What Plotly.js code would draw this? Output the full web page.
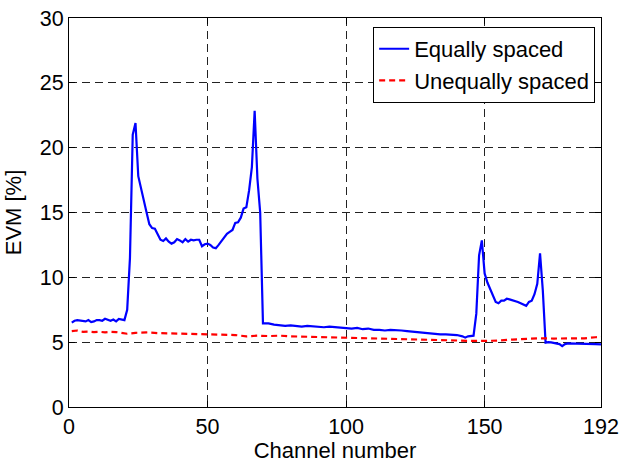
<!DOCTYPE html>
<html>
<head>
<meta charset="utf-8">
<script src="https://cdn.plot.ly/plotly-3.0.1.min.js"></script>
<style>html,body{margin:0;padding:0;background:#fff;}#chart{width:621px;height:463px;}</style>
</head>
<body>
<div id="chart"></div>
<script>
const equalX = [1,2,3,4,5,6,7,8,9,10,11,12,13,14,15,16,17,18,19,20,
  21,22,23,24,25,26,27,28,29,30,31,32,33,34,35,36,37,38,39,40,
  41,42,43,44,45,46,47,48,49,50,51,52,53,54,55,56,57,58,59,60,
  61,62,63,64,65,66,67,68,69,70,72,74,76,78,80,82,84,86,88,90,
  92,94,96,98,100,102,104,106,108,110,112,114,116,118,120,122,124,126,128,130,
  132,134,136,138,140,142,143,144,145,146,147,148,149,150,151,152,153,154,155,156,
  157,158,159,160,161,162,163,164,165,166,167,168,169,170,171,172,173,174,175,176,
  177,178,179,180,182,184,186,188,190,192];
const equalY = [6.5,6.65,6.7,6.65,6.65,6.6,6.7,6.55,6.6,6.7,6.7,6.65,6.8,6.7,6.65,6.75,6.6,6.8,6.75,6.7,
  7.5,11.5,21.0,21.9,17.8,16.8,15.9,15.0,14.1,13.8,13.75,13.3,12.9,12.8,13.0,12.75,12.6,12.7,12.95,12.85,
  12.7,12.95,12.75,12.9,12.85,12.9,12.9,12.4,12.55,12.6,12.5,12.3,12.25,12.5,12.8,13.1,13.35,13.5,13.65,14.2,
  14.25,14.6,15.3,15.4,16.7,18.5,22.85,17.6,15.0,6.45,6.45,6.35,6.3,6.25,6.3,6.25,6.2,6.25,6.2,6.2,
  6.15,6.2,6.15,6.1,6.1,6.05,6.1,6.0,6.05,5.95,5.95,5.9,5.95,5.95,5.9,5.85,5.8,5.75,5.7,5.65,
  5.65,5.6,5.6,5.6,5.55,5.45,5.35,5.45,5.5,5.5,7.2,11.7,12.85,10.3,9.6,9.1,8.5,8.1,8.0,8.2,
  8.2,8.35,8.3,8.25,8.2,8.1,8.0,7.9,7.8,8.1,8.2,8.7,9.5,11.85,9.0,4.96,5.0,4.98,4.95,4.9,
  4.85,4.7,4.85,4.9,4.9,4.88,4.9,4.88,4.85,4.83];
const unequalX = [1,3,5,7,9,11,13,15,17,19,21,24,28,32,36,40,44,48,52,56,
  60,64,68,72,76,80,85,90,95,100,105,110,115,120,125,130,135,140,145,150,
  155,160,165,170,175,180,186,190,192];
const unequalY = [5.85,5.9,5.8,5.82,5.78,5.8,5.76,5.8,5.78,5.72,5.65,5.72,5.75,5.7,5.68,5.65,5.65,5.62,5.6,5.58,
  5.55,5.45,5.5,5.47,5.5,5.45,5.42,5.4,5.38,5.37,5.33,5.3,5.25,5.22,5.17,5.15,5.15,5.12,5.1,5.1,
  5.12,5.2,5.25,5.3,5.28,5.3,5.3,5.38,5.4];
const xTicks = [0,50,100,150,192];
const yTicks = [0,5,10,15,20,25,30];
const seriesNames = ['Equally spaced','Unequally spaced'];

const font = {family:'Liberation Sans, Arial, sans-serif', size:21.5, color:'#000'};
const titleFont = {family:'Liberation Sans, Arial, sans-serif', size:22, color:'#000'};
const axisCommon = {
  showline:true, mirror:'ticks', linecolor:'#000', linewidth:1,
  ticks:'inside', ticklen:6, tickcolor:'#000',
  showgrid:true, gridcolor:'#222', gridwidth:1, griddash:'8px,5px',
  zeroline:false, tickfont:font
};
const data = [
  {x:equalX, y:equalY, type:'scatter', mode:'lines', name:seriesNames[0],
   line:{color:'#0000ff', width:2.2}},
  {x:unequalX, y:unequalY, type:'scatter', mode:'lines', name:seriesNames[1],
   line:{color:'#ff0000', width:2.2, dash:'6px,4px'}}
];
const layout = {
  width:621, height:463,
  margin:{l:69, r:20, t:18, b:56},
  paper_bgcolor:'#fff', plot_bgcolor:'#fff',
  font:font,
  showlegend:true,
  legend:{x:0.989, y:0.977, xanchor:'right', yanchor:'top', bgcolor:'#fff',
    bordercolor:'#000', borderwidth:1, font:titleFont, tracegroupgap:0},
  xaxis:Object.assign({}, axisCommon, {range:[0,192], tickvals:xTicks, ticktext:xTicks.map(String),
    title:{text:'Channel number', font:titleFont, standoff:2}}),
  yaxis:Object.assign({}, axisCommon, {range:[0,30], tickvals:yTicks, ticktext:yTicks.map(String),
    title:{text:'EVM [%]', font:titleFont, standoff:12}})
};
Plotly.newPlot('chart', data, layout, {displayModeBar:false, staticPlot:true});
</script>
</body>
</html>
